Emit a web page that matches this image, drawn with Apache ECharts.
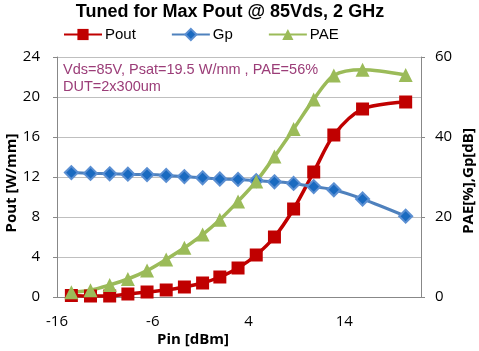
<!DOCTYPE html>
<html>
<head>
<meta charset="utf-8">
<title>Tuned for Max Pout</title>
<script src="https://cdn.jsdelivr.net/npm/echarts@6.0.0/dist/echarts.min.js"></script>
<style>
  html, body { margin: 0; padding: 0; background: #fff; }
  #chart { width: 479px; height: 351px; }
</style>
</head>
<body>
<div id="chart"></div>
<script>
// input power sweep (dBm)
var pin = [-14.5, -12.5, -10.5, -8.6, -6.6, -4.6, -2.7, -0.8, 1.0, 2.9, 4.8, 6.7, 8.7, 10.8, 12.9, 15.9, 20.4];
// output power W/mm (left axis)
var pout = [0.15, 0.1, 0.1, 0.3, 0.5, 0.7, 1.0, 1.4, 2.0, 2.9, 4.2, 6.0, 8.8, 12.5, 16.2, 18.8, 19.5];
// gain dB (right axis)
var gp = [31.1, 30.9, 30.8, 30.7, 30.6, 30.4, 30.1, 29.8, 29.5, 29.4, 29.1, 28.8, 28.4, 27.6, 26.8, 24.5, 20.2];
// PAE % (right axis)
var pae = [1.2, 1.7, 3.0, 4.5, 6.6, 9.4, 12.3, 15.6, 19.3, 23.9, 28.9, 35.1, 42.0, 49.4, 55.4, 56.8, 55.5];

var noteLines = ['Vds=85V, Psat=19.5 W/mm , PAE=56%', 'DUT=2x300um'];

function pairs(xs, ys) {
  var out = [];
  for (var i = 0; i < xs.length; i++) {
    out.push([xs[i], ys[i]]);
  }
  return out;
}

var tickFont = { color: '#000', fontFamily: 'Open Sans', fontSize: 15 };
var axisGray = '#888888';
var gridGray = '#BFBFBF';

var option = {
  backgroundColor: '#fff',
  animation: false,
  title: {
    text: 'Tuned for Max Pout @ 85Vds, 2 GHz',
    left: 230,
    textAlign: 'center',
    top: 3,
    padding: 0,
    textStyle: { fontFamily: 'Liberation Sans', fontWeight: 'bold', fontSize: 18, color: '#000' }
  },
  legend: {
    left: 63,
    top: 27,
    padding: 0,
    itemWidth: 38,
    itemHeight: 14,
    itemGap: 35,
    textStyle: { fontFamily: 'Liberation Sans', fontSize: 15, color: '#000', padding: [0, 0, 0, -2] },
    data: ['Pout', 'Gp', 'PAE']
  },
  grid: {
    left: 57,
    right: 58,
    top: 57,
    bottom: 54,
    containLabel: false
  },
  xAxis: {
    type: 'value',
    min: -16,
    max: 22,
    interval: 10,
    axisLine: { show: true, onZero: false, lineStyle: { color: axisGray, width: 1 } },
    axisTick: { show: false },
    splitLine: { show: false },
    axisLabel: Object.assign({ margin: 17, showMaxLabel: false }, tickFont)
  },
  yAxis: [
    {
      type: 'value',
      min: 0,
      max: 24,
      interval: 4,
      position: 'left',
      axisLine: { show: true, onZero: false, lineStyle: { color: axisGray, width: 1 } },
      axisTick: { show: true, length: 4, lineStyle: { color: axisGray } },
      splitLine: { show: true, lineStyle: { color: gridGray, width: 1 } },
      axisLabel: Object.assign({ margin: 17 }, tickFont)
    },
    {
      type: 'value',
      min: 0,
      max: 60,
      interval: 20,
      position: 'right',
      axisLine: { show: true, onZero: false, lineStyle: { color: axisGray, width: 1 } },
      axisTick: { show: true, length: 4, lineStyle: { color: axisGray } },
      splitLine: { show: false },
      axisLabel: Object.assign({ margin: 14 }, tickFont)
    }
  ],
  graphic: [
    {
      type: 'text',
      left: 63,
      top: 61,
      style: {
        text: noteLines.join('\n'),
        fill: '#9B3D78',
        font: '14.5px "Liberation Sans"',
        lineHeight: 17
      }
    },
    {
      type: 'text',
      x: 12,
      y: 183,
      rotation: Math.PI / 2,
      style: {
        text: 'Pout [W/mm]',
        fill: '#000',
        font: 'bold 15px "Open Sans"',
        align: 'center',
        verticalAlign: 'middle'
      }
    },
    {
      type: 'text',
      x: 469,
      y: 181,
      rotation: Math.PI / 2,
      style: {
        text: 'PAE[%],Gp[dB]',
        fill: '#000',
        font: 'bold 15px "Open Sans"',
        align: 'center',
        verticalAlign: 'middle'
      }
    },
    {
      type: 'text',
      x: 193,
      y: 340,
      style: {
        text: 'Pin [dBm]',
        fill: '#000',
        font: 'bold 15px "Open Sans"',
        align: 'center',
        verticalAlign: 'middle'
      }
    }
  ],
  series: [
    {
      name: 'Pout',
      type: 'line',
      yAxisIndex: 0,
      smooth: 0.3,
      symbol: 'rect',
      symbolSize: 13,
      lineStyle: { color: '#C00000', width: 3.5 },
      itemStyle: { color: '#C00000' },
      data: pairs(pin, pout)
    },
    {
      name: 'Gp',
      type: 'line',
      yAxisIndex: 1,
      smooth: 0.3,
      symbol: 'diamond',
      symbolSize: 13,
      lineStyle: { color: '#4F81BD', width: 3 },
      itemStyle: { color: '#1A6AC0', borderColor: '#5B8FD2', borderWidth: 2 },
      data: pairs(pin, gp)
    },
    {
      name: 'PAE',
      type: 'line',
      yAxisIndex: 1,
      smooth: 0.3,
      symbol: 'triangle',
      symbolSize: 14,
      lineStyle: { color: '#9BBB59', width: 3.5 },
      itemStyle: { color: '#9BBB59' },
      data: pairs(pin, pae)
    }
  ]
};

var myChart = echarts.init(document.getElementById('chart'), null, { renderer: 'canvas' });
myChart.setOption(option);
</script>
</body>
</html>
